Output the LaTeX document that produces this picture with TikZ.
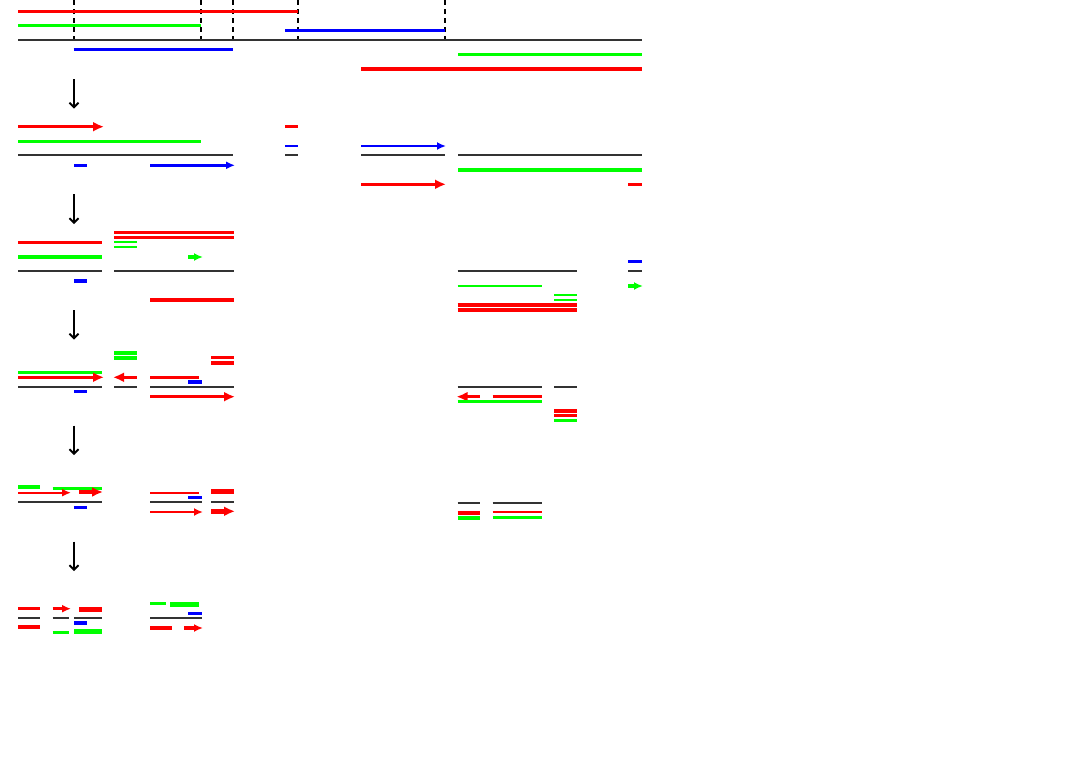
\documentclass[tikz,border=0pt]{standalone}
\usetikzlibrary{arrows.meta}
\definecolor{rr}{RGB}{255,0,0}
\definecolor{gg}{RGB}{0,255,0}
\definecolor{bb}{RGB}{0,0,255}
\tikzset{
  R/.style={rr,line width=3.2pt},
  Rt/.style={rr,line width=2.2pt},
  Rk/.style={rr,line width=4.8pt},
  G/.style={gg,line width=3.2pt},
  Gt/.style={gg,line width=2.2pt},
  Gk/.style={gg,line width=4.8pt},
  B/.style={bb,line width=3.4pt},
  Bt/.style={bb,line width=2.4pt},
  K/.style={black!80,line width=1.7pt},
  dsh/.style={black,line width=2.2pt,dash pattern=on 5pt off 4pt},
  down/.style={black,line width=1.8pt,-{Straight Barb[length=4.5pt,width=9pt]}},
  ah/.style={-{Latex[length=11pt,width=10pt]}},
  ahs/.style={-{Latex[length=9pt,width=8pt]}},
  ahl/.style={{Latex[length=11pt,width=10pt]}-},
}
\begin{document}
\begin{tikzpicture}[x=1pt,y=-1pt]
\useasboundingbox (0,0) rectangle (1090,763);
% ---------- top row ----------
\foreach \xx in {73.7,201,233.3,297.7,444.7} \draw[dsh] (\xx,0) -- (\xx,40.3);
\draw[R] (18,11.3) -- (298,11.3);
\draw[G] (18,25.7) -- (201,25.7);
\draw[B] (285,30.3) -- (444.7,30.3);
\draw[K] (18,40.3) -- (641.5,40.3);
\draw[B] (73.7,49.7) -- (233.3,49.7);
\draw[G] (458,54.3) -- (641.5,54.3);
\draw[R] (361,69) -- (641.5,69);
% arrows down
\coordinate (a1s) at (74,79); \coordinate (a1e) at (74,108.5);
\draw[down] (a1s) -- (a1e);
% ---------- row 2 ----------
\draw[R,ah] (18,126.7) -- (104,126.7);
\draw[G] (18,141.3) -- (201,141.3);
\draw[K] (18,155.3) -- (233.3,155.3);
\draw[Bt] (74,165.3) -- (86.7,165.3);
\draw[Bt,ahs] (150,165.3) -- (235,165.3);
\draw[R] (285,126.7) -- (297.7,126.7);
\draw[Bt] (285,146) -- (297.7,146);
\draw[K] (285,155.3) -- (297.7,155.3);
\draw[Bt,ahs] (361,146) -- (446,146);
\draw[K] (361,155.3) -- (444.7,155.3);
\draw[K] (458,155.3) -- (641.5,155.3);
\draw[G] (458,170) -- (641.5,170);
\draw[R,ah] (361,184.3) -- (446,184.3);
\draw[R] (628.3,184.3) -- (641.5,184.3);
\coordinate (a2s) at (74,194); \coordinate (a2e) at (74,224);
\draw[down] (a2s) -- (a2e);
% ---------- row 3 ----------
\draw[R] (18,242.3) -- (101.7,242.3);
\draw[G] (18,257) -- (101.7,257);
\draw[K] (18,271) -- (101.7,271);
\draw[B] (74,281) -- (86.7,281);
\draw[R] (114.3,232.7) -- (233.7,232.7);
\draw[R] (114.3,237.7) -- (233.7,237.7);
\draw[Gt] (114.3,242.3) -- (136.7,242.3);
\draw[Gt] (114.3,247.3) -- (136.7,247.3);
\draw[G,ahs] (188.3,257) -- (203,257);
\draw[K] (114.3,271) -- (233.7,271);
\draw[R] (150,300) -- (233.7,300);
% right
\draw[B] (628.3,261.7) -- (641.5,261.7);
\draw[K] (457.7,271) -- (576.7,271);
\draw[K] (628.3,271) -- (641.5,271);
\draw[Gt] (457.7,286) -- (541.7,286);
\draw[G,ahs] (628.3,286) -- (643,286);
\draw[Gt] (554.3,295.3) -- (576.7,295.3);
\draw[Gt] (554.3,300) -- (576.7,300);
\draw[R] (457.7,305) -- (576.7,305);
\draw[R] (457.7,310) -- (576.7,310);
\coordinate (a3s) at (74,310); \coordinate (a3e) at (74,339.5);
\draw[down] (a3s) -- (a3e);
% ---------- row 4 ----------
\draw[G] (18,372.3) -- (101.7,372.3);
\draw[R,ah] (18,377.3) -- (104,377.3);
\draw[K] (18,387) -- (101.7,387);
\draw[B] (74,391.7) -- (86.7,391.7);
\draw[G] (114.3,353) -- (136.7,353);
\draw[G] (114.3,358) -- (136.7,358);
\draw[R,ahl] (113,377.3) -- (136.7,377.3);
\draw[K] (114.3,387) -- (136.7,387);
\draw[R] (211,357.7) -- (233.7,357.7);
\draw[R] (211,363) -- (233.7,363);
\draw[R] (150,377.3) -- (198.7,377.3);
\draw[B] (188.3,382) -- (201.7,382);
\draw[K] (150,387) -- (233.7,387);
\draw[R,ah] (150,396.7) -- (235,396.7);
% right
\draw[K] (457.7,386.7) -- (541.7,386.7);
\draw[K] (554.3,386.7) -- (576.7,386.7);
\draw[R,ahl] (456.5,396.7) -- (480,396.7);
\draw[R] (492.7,396.7) -- (541.7,396.7);
\draw[G] (457.7,401.3) -- (541.7,401.3);
\draw[R] (554.3,411) -- (576.7,411);
\draw[R] (554.3,415.7) -- (576.7,415.7);
\draw[G] (554.3,420.3) -- (576.7,420.3);
\coordinate (a4s) at (74,425.7); \coordinate (a4e) at (74,455);
\draw[down] (a4s) -- (a4e);
% ---------- row 5 ----------
\draw[Gk] (18,487) -- (40,487);
\draw[G] (52.7,488.3) -- (101.7,488.3);
\draw[Rt,ahs] (18,492.7) -- (71,492.7);
\draw[Rk,ah] (79.3,492) -- (103,492);
\draw[K] (18,502.3) -- (101.7,502.3);
\draw[B] (74,507.3) -- (86.7,507.3);
\draw[Rt] (150,492.7) -- (198.7,492.7);
\draw[B] (188.3,497.7) -- (201.7,497.7);
\draw[K] (150,502.3) -- (201.7,502.3);
\draw[Rt,ahs] (150,512) -- (203,512);
\draw[Rk] (211,491.7) -- (233.7,491.7);
\draw[K] (211,502.3) -- (233.7,502.3);
\draw[Rk,ah] (211,511.3) -- (235,511.3);
% right
\draw[K] (457.7,502.7) -- (480,502.7);
\draw[K] (492.7,502.7) -- (541.7,502.7);
\draw[Rk] (457.7,513) -- (480,513);
\draw[Gk] (457.7,518) -- (480,518);
\draw[Rt] (492.7,512) -- (541.7,512);
\draw[G] (492.7,517.3) -- (541.7,517.3);
\coordinate (a5s) at (74,541.7); \coordinate (a5e) at (74,571);
\draw[down] (a5s) -- (a5e);
% ---------- row 6 ----------
\draw[R] (18,608.7) -- (40,608.7);
\draw[K] (18,618.3) -- (40,618.3);
\draw[Rk] (18,627) -- (40,627);
\draw[R,ahs] (52.7,608.7) -- (71,608.7);
\draw[K] (52.7,618.3) -- (69.3,618.3);
\draw[G] (52.7,632.3) -- (69.3,632.3);
\draw[Rk] (79.3,609.7) -- (101.7,609.7);
\draw[K] (74,618.3) -- (101.7,618.3);
\draw[B] (74,623) -- (86.7,623);
\draw[Gk] (74,631.7) -- (101.7,631.7);
\draw[G] (150,603.7) -- (166,603.7);
\draw[Gk] (170.3,604.7) -- (198.7,604.7);
\draw[B] (188.3,613.3) -- (201.7,613.3);
\draw[K] (150,618.3) -- (201.7,618.3);
\draw[R] (150,628) -- (171.7,628);
\draw[R,ahs] (184.3,628) -- (203,628);
\end{tikzpicture}
\end{document}
